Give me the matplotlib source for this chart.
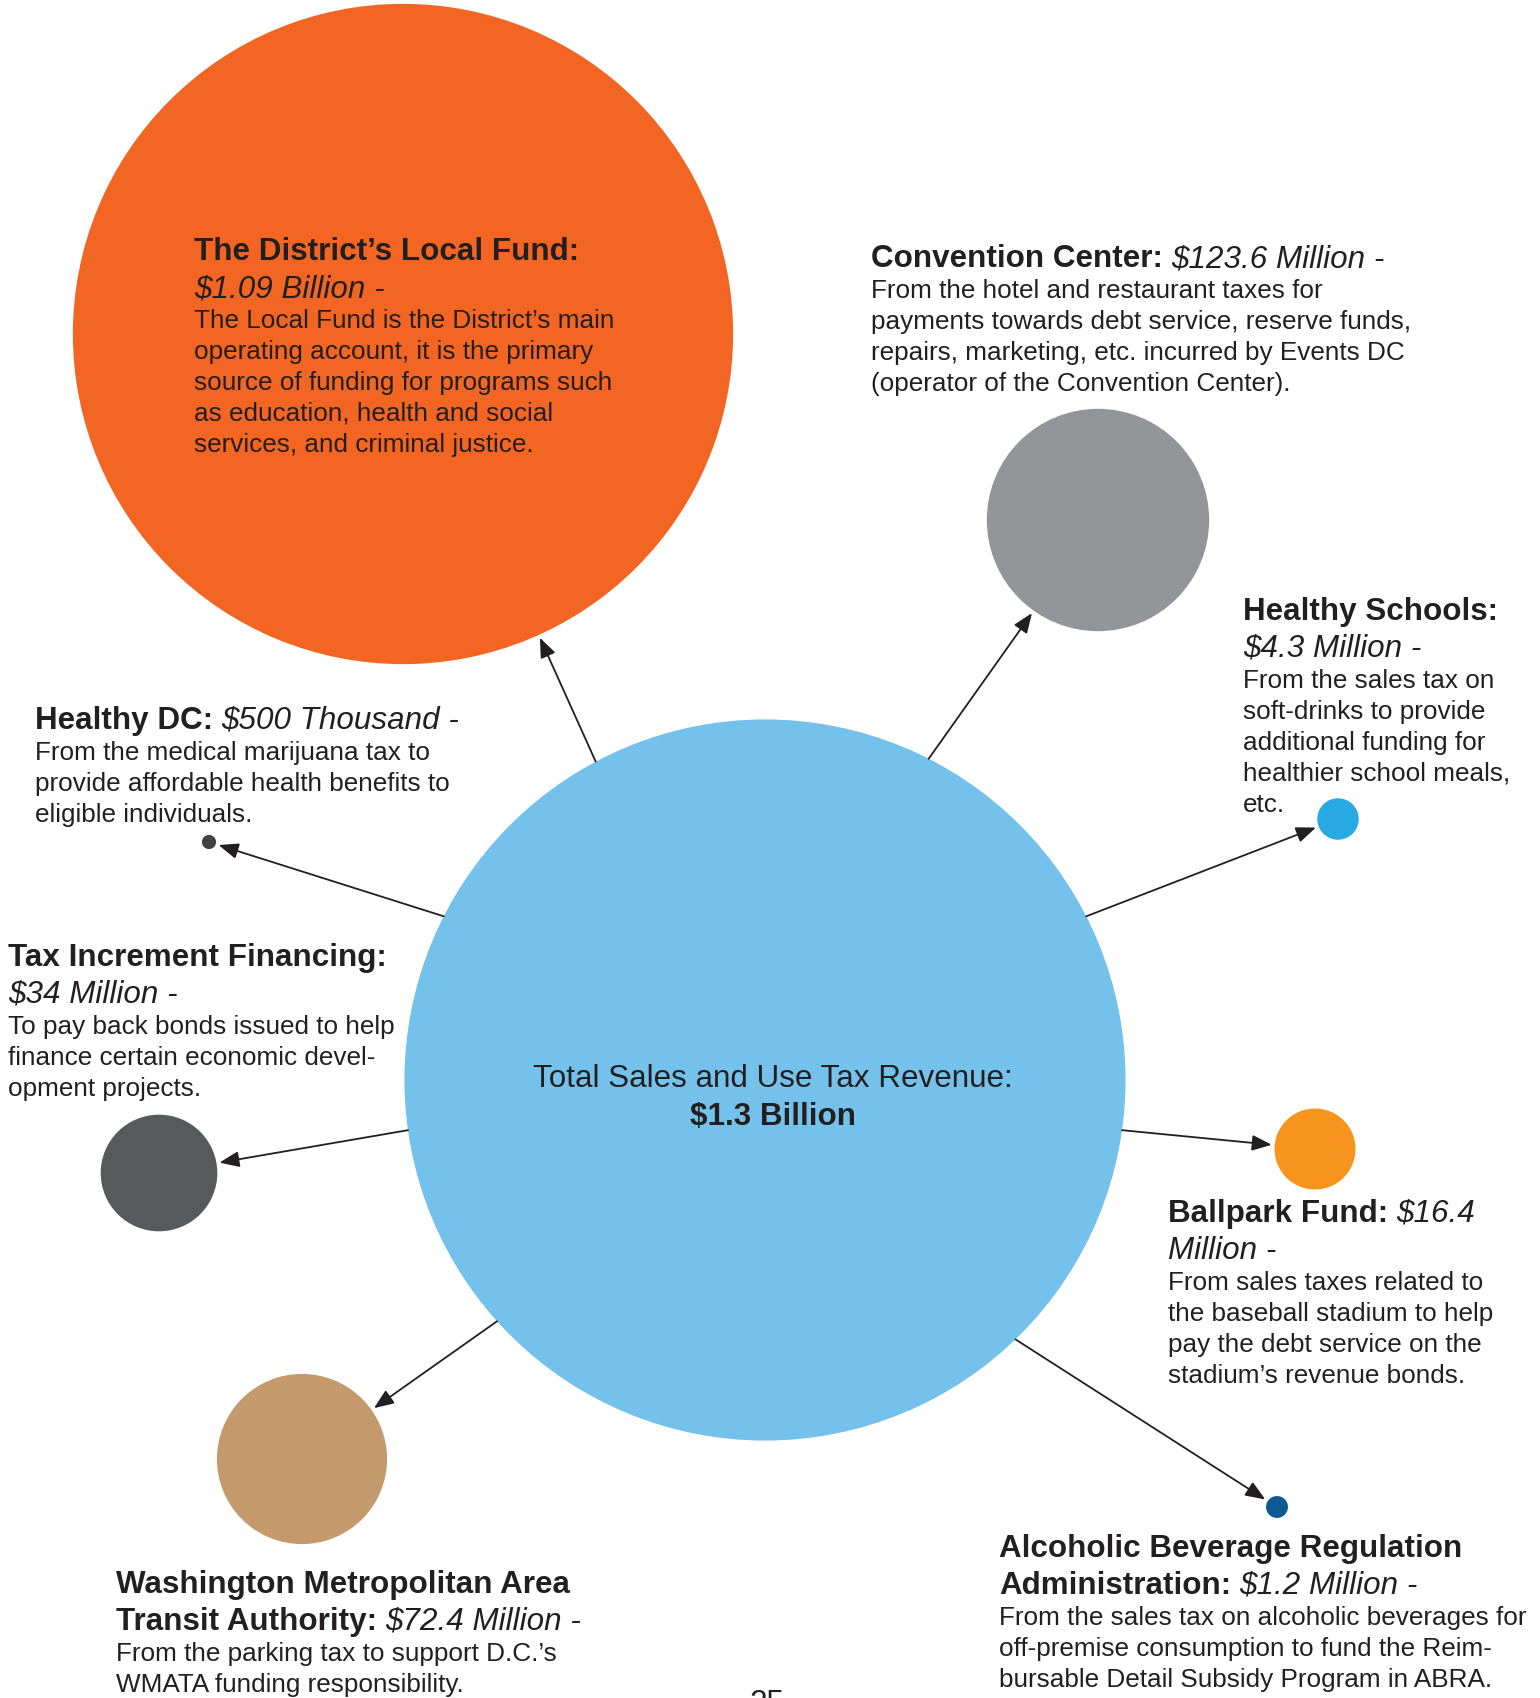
"""Where D.C. sales and use tax revenue goes: bubbles sized by amount."""
import numpy as np
import matplotlib.pyplot as plt
from matplotlib.patches import Circle

plt.rcParams['font.family'] = ['Liberation Sans', 'DejaVu Sans']

# all amounts in millions of dollars
total_value = 1300
total_title = "Total Sales and Use Tax Revenue:"
total_label = "$1.3 Billion"

names = [
    "The District\u2019s Local Fund:",
    "Convention Center:",
    "Healthy Schools:",
    "Healthy DC:",
    "Tax Increment Financing:",
    "Ballpark Fund:",
    "Washington Metropolitan Area\nTransit Authority:",
    "Alcoholic Beverage Regulation\nAdministration:",
]
amount_labels = [
    "$1.09 Billion -",
    "$123.6 Million -",
    "$4.3 Million -",
    "$500 Thousand -",
    "$34 Million -",
    "$16.4\nMillion -",
    "$72.4 Million -",
    "$1.2 Million -",
]
values = [1090, 123.6, 4.3, 0.5, 34, 16.4, 72.4, 1.2]
descriptions = [
    ["The Local Fund is the District\u2019s main",
     "operating account, it is the primary",
     "source of funding for programs such",
     "as education, health and social",
     "services, and criminal justice."],
    ["From the hotel and restaurant taxes for",
     "payments towards debt service, reserve funds,",
     "repairs, marketing, etc. incurred by Events DC",
     "(operator of the Convention Center)."],
    ["From the sales tax on",
     "soft-drinks to provide",
     "additional funding for",
     "healthier school meals,",
     "etc."],
    ["From the medical marijuana tax to",
     "provide affordable health benefits to",
     "eligible individuals."],
    ["To pay back bonds issued to help",
     "finance certain economic devel-",
     "opment projects."],
    ["From sales taxes related to",
     "the baseball stadium to help",
     "pay the debt service on the",
     "stadium\u2019s revenue bonds."],
    ["From the parking tax to support D.C.\u2019s",
     "WMATA funding responsibility."],
    ["From the sales tax on alcoholic beverages for",
     "off-premise consumption to fund the Reim-",
     "bursable Detail Subsidy Program in ABRA."],
]
colors = ["#F26522", "#939598", "#27AAE1", "#414042",
          "#58595B", "#F7941D", "#C49A6C", "#0E5A94"]
total_color = "#74C1EB"
page_number = "25"

# ---- layout (pixels, y down) ----
W, H = 1540, 1699
total_center = (765, 1081)
centers = [(403, 335), (1098, 521), (1338, 820), (209, 843),
           (159, 1174), (1315, 1150), (302, 1460), (1277, 1508)]
arrow_angles = [-118, -63, -27, -153, 172, 8, 138, 46]
amount_newline = [True, False, True, False, True, False, False, False]
text_pos = [(194, 260), (871, 267), (1243, 620), (35, 729),
            (8, 966), (1168, 1222), (116, 1593), (999, 1557)]
px_per_sqrt = 10.0
ink = "#231F20"
head_size = 22.6   # pt
body_size = 18.8   # pt
head_step = 37
body_step = 31

fig = plt.figure(figsize=(W / 100, H / 100), dpi=100)
ax = fig.add_axes([0, 0, 1, 1])
ax.set_xlim(0, W)
ax.set_ylim(H, 0)
ax.axis('off')
renderer = fig.canvas.get_renderer()

R = px_per_sqrt * np.sqrt(total_value)
ax.add_patch(Circle(total_center, R, color=total_color, lw=0, zorder=1))
ax.text(773, 1087, total_title, fontsize=head_size, color=ink,
        ha='center', va='baseline', zorder=3)
ax.text(773, 1125, total_label, fontsize=head_size, color=ink,
        fontweight='bold', ha='center', va='baseline', zorder=3)

for i in range(len(values)):
    r = px_per_sqrt * np.sqrt(values[i])
    cx, cy = centers[i]
    ax.add_patch(Circle((cx, cy), r, color=colors[i], lw=0, zorder=1))

    # arrow from the edge of the big bubble toward the small one
    a = np.radians(arrow_angles[i])
    sx = total_center[0] + R * np.cos(a)
    sy = total_center[1] + R * np.sin(a)
    d = np.array([cx - sx, cy - sy])
    d = d / np.linalg.norm(d)
    ex, ey = cx - (r + 3) * d[0], cy - (r + 3) * d[1]
    ax.annotate('', xy=(ex, ey), xytext=(sx, sy), zorder=2,
                arrowprops=dict(arrowstyle='-|>,head_length=1.0,head_width=0.4',
                                mutation_scale=12, lw=1.3, color=ink,
                                shrinkA=0, shrinkB=0))

    # heading: bold name then italic amount, broken where the original breaks
    x0, y = text_pos[i]
    segments = [(names[i], 'bold', 'normal')]
    amt = amount_labels[i]
    if amount_newline[i]:
        amt = "\n" + amt
    segments.append((amt, 'normal', 'italic'))
    x = x0
    for txt, weight, style in segments:
        parts = txt.split("\n")
        for j, part in enumerate(parts):
            if j > 0:
                x = x0
                y += head_step
            if part == "":
                continue
            if x > x0:
                x += 8
            t = ax.text(x, y, part, fontsize=head_size, fontweight=weight,
                        fontstyle=style, color=ink, va='baseline', zorder=3)
            x += t.get_window_extent(renderer).width

    for line in descriptions[i]:
        y += body_step
        ax.text(x0, y, line, fontsize=body_size, color=ink,
                va='baseline', zorder=3)

# page number, cut by the bottom edge as in the original
ax.text(767, 1712, page_number, fontsize=head_size, color=ink,
        ha='center', va='baseline')

fig.savefig('out.png', dpi=100, facecolor='white')
